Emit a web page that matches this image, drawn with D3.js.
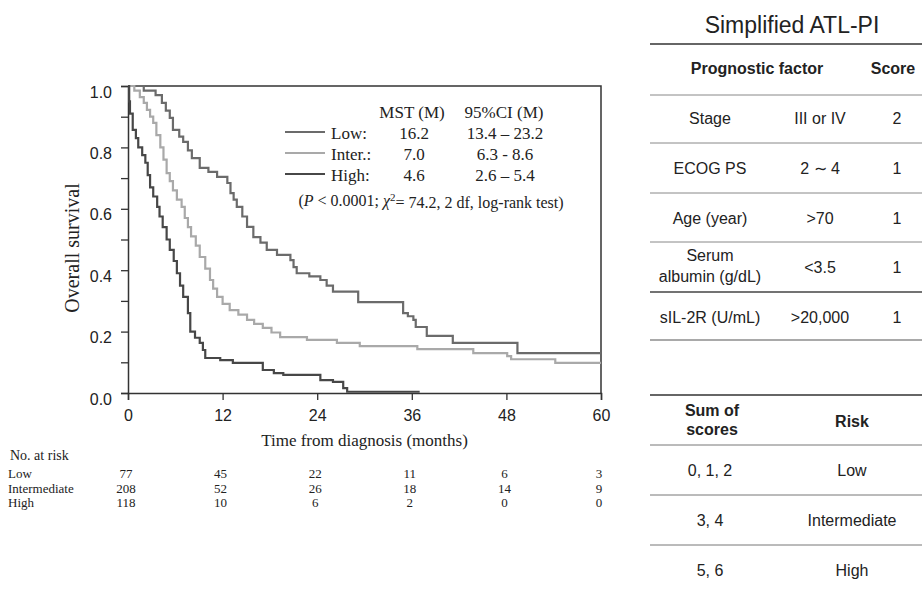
<!DOCTYPE html>
<html>
<head>
<meta charset="utf-8">
<script src="https://cdn.jsdelivr.net/npm/d3@7"></script>
<style>
  body { margin: 0; background: #fff; }
  .serif { font-family: "Liberation Serif", "Times New Roman", serif; }
  .sans { font-family: "Liberation Sans", Arial, sans-serif; }
</style>
</head>
<body>
<div id="chart"></div>
<script>
"use strict";

// Kaplan-Meier steps, [months, survival]
var lowCurve = [[0, 1.0], [2, 0.985], [3.5, 0.97], [4.3, 0.945], [4.8, 0.92], [5.3, 0.896], [5.7, 0.857],
  [6.5, 0.835], [7, 0.818], [7.6, 0.79], [8.1, 0.765], [9.1, 0.733], [10.2, 0.72], [11.3, 0.704],
  [12.6, 0.684], [13, 0.651], [13.4, 0.63], [13.8, 0.606], [14.5, 0.575], [15.1, 0.541], [15.9, 0.508],
  [16.8, 0.49], [17.6, 0.466], [18.9, 0.45], [20.6, 0.433], [21, 0.41], [21.4, 0.39], [23, 0.38],
  [24.4, 0.368], [25.2, 0.35], [26, 0.33], [29.2, 0.296], [34.9, 0.26], [35.5, 0.25], [36.2, 0.238],
  [36.5, 0.215], [37.9, 0.186], [41.2, 0.163], [49.4, 0.13], [60, 0.13]];

var interCurve = [[0, 1.0], [0.8, 0.985], [1.5, 0.964], [2, 0.945], [2.4, 0.922], [2.8, 0.9], [3.2, 0.88],
  [3.6, 0.84], [4.1, 0.8], [4.5, 0.76], [4.9, 0.716], [5.3, 0.69], [5.7, 0.66], [6.2, 0.63], [6.8, 0.606],
  [7.2, 0.57], [7.6, 0.54], [8, 0.51], [8.6, 0.48], [9.1, 0.443], [9.8, 0.405], [10.4, 0.368], [10.8, 0.34],
  [11.3, 0.313], [12, 0.29], [12.9, 0.27], [14, 0.255], [15.1, 0.238], [16, 0.225], [17.1, 0.212],
  [18.2, 0.197], [19.3, 0.182], [22.7, 0.173], [26.5, 0.163], [29.4, 0.153], [36.7, 0.143], [43.8, 0.13],
  [48.1, 0.12], [48.6, 0.11], [54.2, 0.098], [60, 0.098]];

var highCurve = [[0, 1.0], [0.15, 0.95], [0.25, 0.91], [0.6, 0.857], [1, 0.83], [1.3, 0.8], [1.8, 0.775],
  [2.2, 0.75], [2.5, 0.71], [2.8, 0.67], [3.2, 0.64], [3.7, 0.606], [4, 0.575], [4.4, 0.54], [4.9, 0.5],
  [5.3, 0.466], [5.8, 0.43], [6.2, 0.39], [6.6, 0.35], [7, 0.313], [7.6, 0.26], [7.9, 0.2], [8.5, 0.18],
  [9.1, 0.163], [9.5, 0.14], [9.8, 0.114], [11.7, 0.107], [13.3, 0.098], [17.1, 0.075], [18.5, 0.065],
  [19.7, 0.059], [24.4, 0.042], [26, 0.036], [27.3, 0.016], [27.8, 0.004], [37, 0.004]];

var seriesLabels = ["Low:", "Inter.:", "High:"];
var mstValues = ["16.2", "7.0", "4.6"];
var ciValues = ["13.4 \u2013 23.2", "6.3 - 8.6", "2.6 \u2013 5.4"];
var seriesColors = ["#6b6b6b", "#a9a9a9", "#474747"];

var xTicks = [0, 12, 24, 36, 48, 60];
var yTicks = [0, 0.1, 0.2, 0.3, 0.4, 0.5, 0.6, 0.7, 0.8, 0.9, 1.0];

var riskGroups = ["Low", "Intermediate", "High"];
var atRiskLow = [77, 45, 22, 11, 6, 3];
var atRiskInter = [208, 52, 26, 18, 14, 9];
var atRiskHigh = [118, 10, 6, 2, 0, 0];

var factorNames = [["Stage"], ["ECOG PS"], ["Age (year)"], ["Serum", "albumin (g/dL)"], ["sIL-2R (U/mL)"]];
var factorCuts = ["III or IV", "2 \u223c 4", ">70", "<3.5", ">20,000"];
var factorScores = ["2", "1", "1", "1", "1"];
var scoreSums = ["0, 1, 2", "3, 4", "5, 6"];
var riskNames = ["Low", "Intermediate", "High"];

var width = 922, height = 590;

var svg = d3.select('#chart')
            .append('svg')
            .attr('width', width)
            .attr('height', height);

svg.append('rect').attr('width', width).attr('height', height).attr('fill', '#fff');

var x = d3.scaleLinear().domain([0, 60]).range([128, 601]);
var y = d3.scaleLinear().domain([0, 1]).range([393, 86]);

// frame top + right
svg.append('path')
  .attr('d', 'M' + x(0) + ',' + y(1) + 'H' + x(60) + 'V' + y(0))
  .attr('fill', 'none')
  .attr('stroke', '#333')
  .attr('stroke-width', 1.5);

var yAxis = d3.axisLeft(y)
              .tickValues(yTicks)
              .tickSize(7)
              .tickPadding(9)
              .tickFormat(function(d) {
                return Math.round(d * 10) % 2 === 0 ? d3.format('.1f')(d) : '';
              });
var xAxis = d3.axisBottom(x)
              .tickValues(xTicks)
              .tickSize(7)
              .tickPadding(10);

var gY = svg.append('g').attr('transform', 'translate(' + x(0) + ',0)').call(yAxis);
var gX = svg.append('g').attr('transform', 'translate(0,' + y(0) + ')').call(xAxis);

[gX, gY].forEach(function(g) {
  g.select('.domain').attr('stroke', '#333').attr('stroke-width', 1.5);
  g.selectAll('.tick line').attr('stroke', '#333').attr('stroke-width', 1.3);
  g.selectAll('.tick text').attr('fill', '#222').style('font-size', '16px').style('font-family', '"Liberation Sans", Arial, sans-serif');
});
gY.selectAll('.tick text').attr('y', 6);

svg.append('text')
  .attr('class', 'serif')
  .attr('transform', 'translate(79,248) rotate(-90)')
  .attr('text-anchor', 'middle')
  .attr('fill', '#222')
  .style('font-size', '20px')
  .text('Overall survival');

svg.append('text')
  .attr('class', 'serif')
  .attr('x', x(30))
  .attr('y', 446)
  .attr('text-anchor', 'middle')
  .attr('fill', '#222')
  .style('font-size', '17px')
  .text('Time from diagnosis (months)');

// curves
var line = d3.line()
  .curve(d3.curveStepAfter)
  .x(function(d) { return x(d[0]); })
  .y(function(d) { return y(d[1]); });

var curves = [lowCurve, interCurve, highCurve];
svg.append('g')
  .selectAll('path')
  .data(curves)
  .enter().append('path')
  .attr('d', line)
  .attr('fill', 'none')
  .attr('stroke', function(d, i) { return seriesColors[i]; })
  .attr('stroke-width', 2.2);

// legend
var legend = svg.append('g').attr('class', 'serif').style('font-size', '17px').attr('fill', '#222');
var rowY = [133, 154, 175];
legend.append('text').attr('x', 412).attr('y', 112).attr('dy', '0.35em').attr('text-anchor', 'middle').text('MST (M)');
legend.append('text').attr('x', 504).attr('y', 112).attr('dy', '0.35em').attr('text-anchor', 'middle').text('95%CI (M)');

seriesLabels.forEach(function(lbl, i) {
  legend.append('line')
    .attr('x1', 285).attr('x2', 325)
    .attr('y1', rowY[i] - 1).attr('y2', rowY[i] - 1)
    .attr('stroke', seriesColors[i])
    .attr('stroke-width', 2.2);
  legend.append('text').attr('x', 331).attr('y', rowY[i]).attr('dy', '0.35em').text(lbl);
  legend.append('text').attr('x', 414).attr('y', rowY[i]).attr('dy', '0.35em').attr('text-anchor', 'middle').text(mstValues[i]);
  legend.append('text').attr('x', 505).attr('y', rowY[i]).attr('dy', '0.35em').attr('text-anchor', 'middle').text(ciValues[i]);
});

var pText = legend.append('text').attr('x', 431).attr('y', 200).attr('dy', '0.35em').attr('text-anchor', 'middle')
  .style('font-size', '16px');
pText.append('tspan').text('(');
pText.append('tspan').style('font-style', 'italic').text('P');
pText.append('tspan').text(' < 0.0001; ');
pText.append('tspan').style('font-style', 'italic').text('\u03c7');
pText.append('tspan').attr('dy', '-0.4em').style('font-size', '11px').text('2');
pText.append('tspan').attr('dy', '0.4em').text('= 74.2, 2 df, log-rank test)');

// number at risk
var risk = svg.append('g').attr('class', 'serif').style('font-size', '13px').attr('fill', '#222');
risk.append('text').attr('x', 10).attr('y', 455).attr('dy', '0.35em').style('font-size', '14px').text('No. at risk');
var riskRowsY = [473, 488, 502];
[atRiskLow, atRiskInter, atRiskHigh].forEach(function(row, r) {
  risk.append('text').attr('x', 8).attr('y', riskRowsY[r]).attr('dy', '0.35em').text(riskGroups[r]);
  row.forEach(function(v, j) {
    risk.append('text')
      .attr('x', x(xTicks[j]) - 2)
      .attr('y', riskRowsY[r])
      .attr('dy', '0.35em')
      .attr('text-anchor', 'middle')
      .text(v);
  });
});

// simplified ATL-PI table
var tbl = svg.append('g').attr('class', 'sans').attr('fill', '#222').style('font-size', '16px');
var col1 = 710, col2 = 820, col3 = 897;

tbl.append('text').attr('x', 792).attr('y', 25).attr('dy', '0.35em').attr('text-anchor', 'middle')
  .style('font-size', '23px').text('Simplified ATL-PI');

function rule(yy, w, c) {
  tbl.append('line').attr('x1', 650).attr('x2', 922).attr('y1', yy).attr('y2', yy)
    .attr('stroke', c || '#777').attr('stroke-width', w || 1);
}

rule(44, 1.6, '#333');
tbl.append('text').attr('x', 757).attr('y', 68).attr('dy', '0.35em').attr('text-anchor', 'middle')
  .style('font-weight', 'bold').text('Prognostic factor');
tbl.append('text').attr('x', 893).attr('y', 68).attr('dy', '0.35em').attr('text-anchor', 'middle')
  .style('font-weight', 'bold').text('Score');

var factorY = [118, 168, 218, 267, 317];
var ruleY = [95, 143, 193, 242, 292];
ruleY.forEach(function(r, i) { rule(r, i === 4 ? 1.4 : 1, i === 4 ? '#444' : '#888'); });

factorNames.forEach(function(nm, i) {
  var t = tbl.append('text').attr('x', col1).attr('y', factorY[i]).attr('text-anchor', 'middle');
  if (nm.length === 1) {
    t.attr('dy', '0.35em').text(nm[0]);
  } else {
    t.append('tspan').attr('x', col1).attr('dy', '-0.35em').text(nm[0]);
    t.append('tspan').attr('x', col1).attr('dy', '1.3em').text(nm[1]);
  }
  tbl.append('text').attr('x', col2).attr('y', factorY[i]).attr('dy', '0.35em').attr('text-anchor', 'middle').text(factorCuts[i]);
  tbl.append('text').attr('x', col3).attr('y', factorY[i]).attr('dy', '0.35em').attr('text-anchor', 'middle').text(factorScores[i]);
});

rule(340, 1.2, '#555');
rule(395, 1.6, '#333');

var sumHead = tbl.append('text').attr('x', 712).attr('y', 421).attr('text-anchor', 'middle').style('font-weight', 'bold');
sumHead.append('tspan').attr('x', 712).attr('dy', '-0.3em').text('Sum of');
sumHead.append('tspan').attr('x', 712).attr('dy', '1.2em').text('scores');
tbl.append('text').attr('x', 852).attr('y', 421).attr('dy', '0.35em').attr('text-anchor', 'middle')
  .style('font-weight', 'bold').text('Risk');

rule(445);
var sumY = [470, 520, 570];
scoreSums.forEach(function(s, i) {
  tbl.append('text').attr('x', 710).attr('y', sumY[i]).attr('dy', '0.35em').attr('text-anchor', 'middle').text(s);
  tbl.append('text').attr('x', 852).attr('y', sumY[i]).attr('dy', '0.35em').attr('text-anchor', 'middle').text(riskNames[i]);
  if (i < 2) rule(sumY[i] + 25);
});
</script>
</body>
</html>
